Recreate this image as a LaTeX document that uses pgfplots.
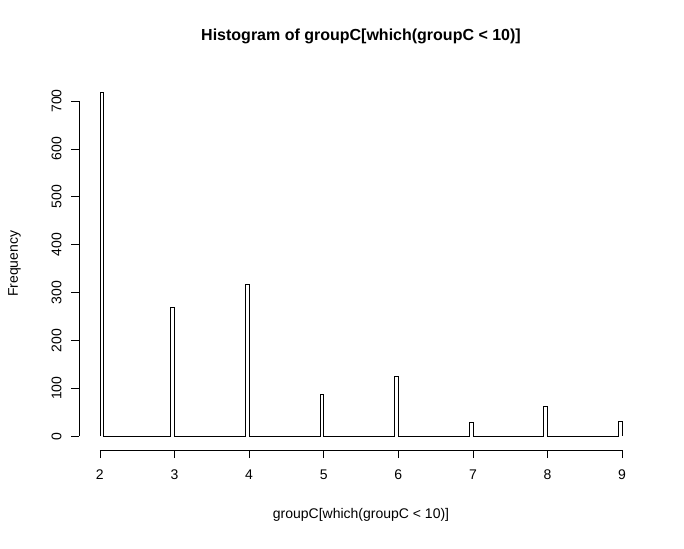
\documentclass[border=0pt]{standalone}
\usepackage{pgfplots}
\pgfplotsset{compat=1.18}
\usepackage{fontspec}
\setmainfont{Liberation Sans}
\begin{document}
\begin{tikzpicture}[x=1pt,y=1pt]
\path (0,0) rectangle (684,548);
\begin{axis}[at={(79pt,98pt)},anchor=south west,scale only axis,width=564pt,height=372.4pt,
 xmin=1.72,xmax=9.28,ymin=-28.8,ymax=748.8,
 axis line style={draw=none},
 xtick={2,3,4,5,6,7,8,9},ytick={0,100,200,300,400,500,600,700},
 xtick pos=bottom,ytick pos=left,tick align=outside,major tick length=8pt,
 tick style={black,line width=0.6pt},
 /pgf/number format/assume math mode=true,
 ticklabel style={font=\fontsize{14}{16}\selectfont},
 xticklabel style={yshift=-8pt},
 yticklabel style={rotate=90,anchor=south,xshift=0pt,yshift=6pt},
 title={\bfseries Histogram of groupC[which(groupC < 10)]},
 title style={font=\fontsize{16}{18}\selectfont,at={(0.5,1)},yshift=24pt},
 xlabel={groupC[which(groupC < 10)]},ylabel={Frequency},
 label style={font=\fontsize{14}{16}\selectfont},
 xlabel style={yshift=-22pt},ylabel style={yshift=24pt},
 clip=false]
\addplot[black,line width=0.6pt,sharp plot,mark=none] coordinates {
(2,0)(2,718)(2.05,718)(2.05,0)
(2.95,0)(2.95,270)(3,270)(3,0)
(3.95,0)(3.95,318)(4,318)(4,0)
(4.95,0)(4.95,88)(5,88)(5,0)
(5.95,0)(5.95,125)(6,125)(6,0)
(6.95,0)(6.95,29)(7,29)(7,0)
(7.95,0)(7.95,63)(8,63)(8,0)
(8.95,0)(8.95,31)(9,31)(9,0)};
\draw[line width=0.6pt] (axis cs:2,-28.8) -- (axis cs:9,-28.8);
\draw[line width=0.6pt] (axis cs:1.72,0) -- (axis cs:1.72,700);
\end{axis}
\end{tikzpicture}
\end{document}
